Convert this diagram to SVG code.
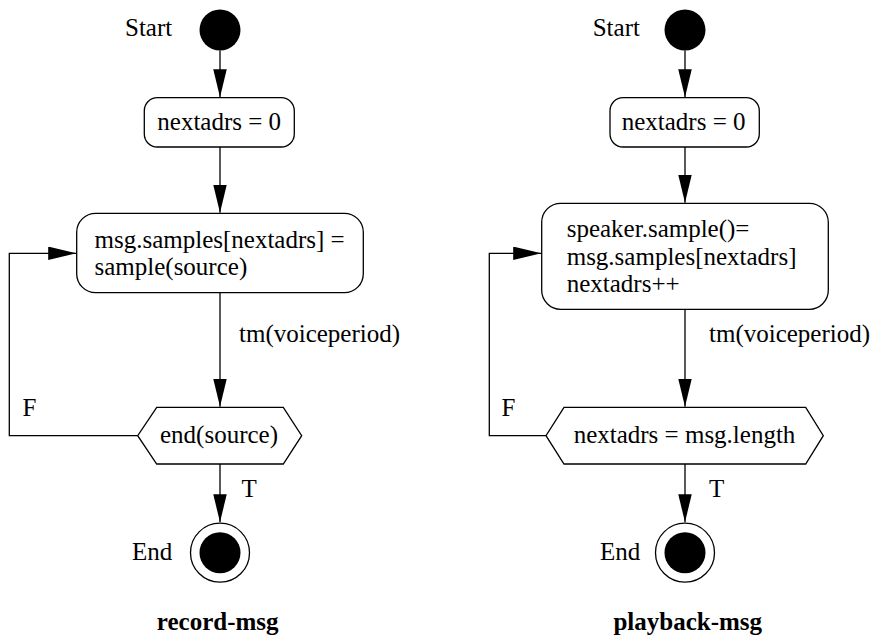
<svg xmlns="http://www.w3.org/2000/svg" width="875" height="637" viewBox="0 0 875 637">
<style>
text{font-family:"Liberation Serif","Times New Roman",serif;font-size:25px;fill:#000}
.b{font-weight:bold}
.m{text-anchor:middle}
.shape{fill:#fff;stroke:#000;stroke-width:1.3}
.edge{fill:none;stroke:#000;stroke-width:1.3}
.dot{fill:#000}
</style>
<defs>
<marker id="ah" markerUnits="userSpaceOnUse" markerWidth="29" markerHeight="14" refX="28" refY="6.75" orient="auto">
<path d="M0,0 L28,6.75 L0,13.5 z" fill="#000"/>
</marker>
</defs>
<g id="connectors">
<path class="edge" d="M220,50.5 V97.2" marker-end="url(#ah)"/>
<path class="edge" d="M220,147 V212.8" marker-end="url(#ah)"/>
<path class="edge" d="M220,292.7 V406.8" marker-end="url(#ah)"/>
<path class="edge" d="M220,464 V522.2" marker-end="url(#ah)"/>
<path class="edge" d="M137.7,435.7 H9.3 V253.3 H76.2" marker-end="url(#ah)"/>
<text x="239" y="342">tm(voiceperiod)</text>
<text x="241.5" y="497">T</text>
<text x="22.5" y="416">F</text>
<path class="edge" d="M685,50.5 V97.2" marker-end="url(#ah)"/>
<path class="edge" d="M685,147 V202.8" marker-end="url(#ah)"/>
<path class="edge" d="M685,309.3 V406.8" marker-end="url(#ah)"/>
<path class="edge" d="M685,464 V522.2" marker-end="url(#ah)"/>
<path class="edge" d="M546,435.7 H489.3 V253.3 H541.2" marker-end="url(#ah)"/>
<text x="709" y="342">tm(voiceperiod)</text>
<text x="709" y="497">T</text>
<text x="501.5" y="416">F</text>
</g>
<g id="r-start">
<circle class="dot" cx="220" cy="30" r="20.5"/>
<text x="125" y="36">Start</text>
</g>
<g id="r-init">
<rect class="shape" x="144.3" y="97.7" width="150" height="49.3" rx="13"/>
<text x="157.3" y="130">nextadrs = 0</text>
</g>
<g id="r-store">
<rect class="shape" x="76.7" y="213.3" width="286.6" height="79.4" rx="19"/>
<text x="94.5" y="247.5">msg.samples[nextadrs] =</text>
<text x="94.5" y="275">sample(source)</text>
</g>
<g id="r-decision">
<polygon class="shape" points="156.7,407.3 283.3,407.3 301.7,435.7 283.3,464 156.7,464 137.7,435.7"/>
<text class="m" x="219" y="442.5">end(source)</text>
</g>
<g id="r-end">
<circle class="shape" cx="220" cy="552.7" r="29.5"/>
<circle class="dot" cx="220" cy="552.7" r="20.5"/>
<text x="132" y="560">End</text>
</g>
<text class="b m" x="217.7" y="630">record-msg</text>
<g id="p-start">
<circle class="dot" cx="685" cy="30" r="20.5"/>
<text x="592.7" y="36">Start</text>
</g>
<g id="p-init">
<rect class="shape" x="610" y="97.7" width="149.3" height="49.3" rx="13"/>
<text x="621.7" y="130">nextadrs = 0</text>
</g>
<g id="p-play">
<rect class="shape" x="541.7" y="203.3" width="286.6" height="106" rx="19"/>
<text x="566.7" y="237">speaker.sample()=</text>
<text x="566.7" y="265">msg.samples[nextadrs]</text>
<text x="566.7" y="292">nextadrs++</text>
</g>
<g id="p-decision">
<polygon class="shape" points="564,407.3 805.7,407.3 823.3,435.7 805.7,464 564,464 546,435.7"/>
<text class="m" x="684.5" y="442.5">nextadrs = msg.length</text>
</g>
<g id="p-end">
<circle class="shape" cx="685" cy="552.7" r="29.5"/>
<circle class="dot" cx="685" cy="552.7" r="20.5"/>
<text x="600" y="560">End</text>
</g>
<text class="b m" x="687.8" y="630">playback-msg</text>
</svg>
